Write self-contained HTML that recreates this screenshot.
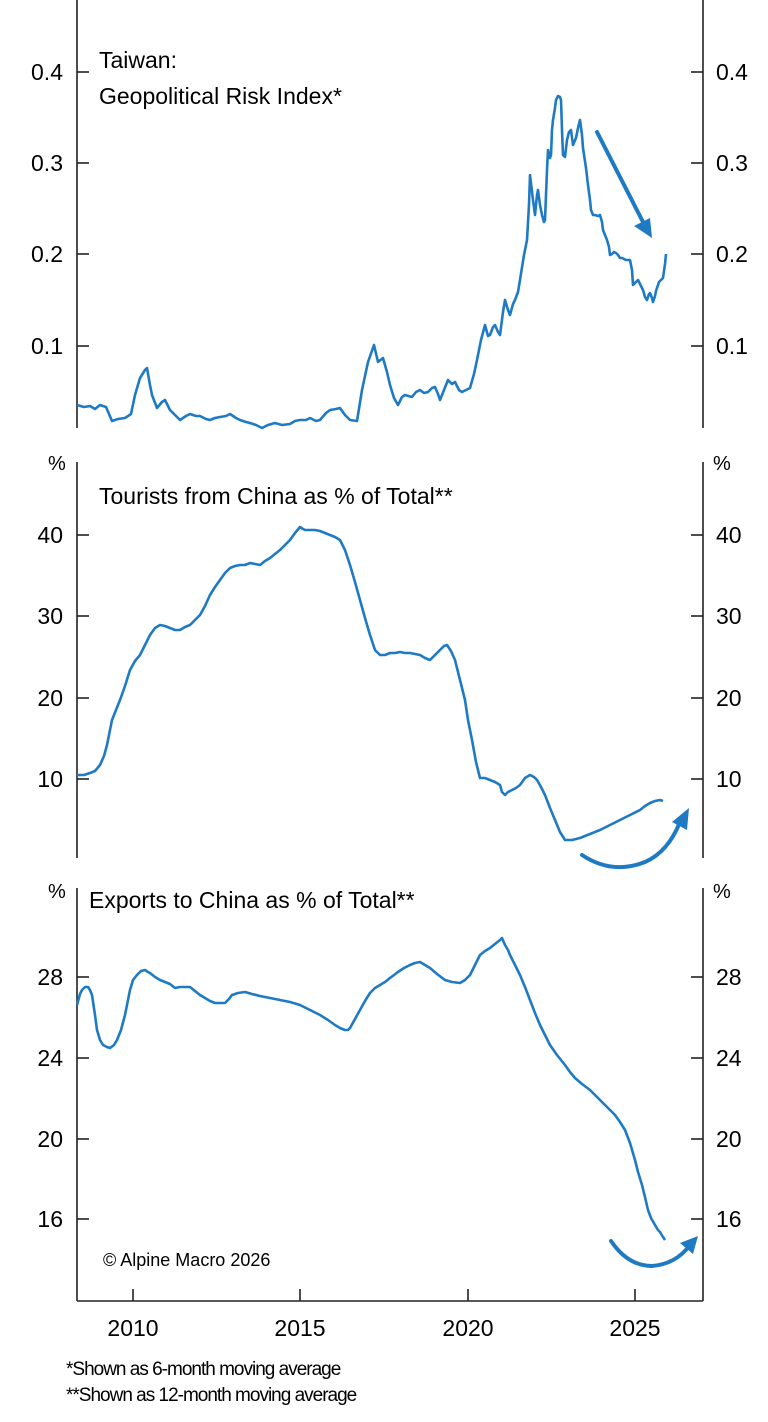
<!DOCTYPE html>
<html><head><meta charset="utf-8"><style>
html,body{margin:0;padding:0;background:#fff;}
svg{display:block;}
text{font-family:"Liberation Sans",Arial,sans-serif;fill:#000;}
</style></head><body>
<svg width="768" height="1422" viewBox="0 0 768 1422" xmlns="http://www.w3.org/2000/svg">
<g stroke="#222" stroke-width="1.6" fill="none">
<line x1="77" y1="0" x2="77" y2="428"/>
<line x1="703" y1="0" x2="703" y2="428"/>
<line x1="77" y1="72" x2="89" y2="72"/><line x1="77" y1="163" x2="89" y2="163"/><line x1="77" y1="254" x2="89" y2="254"/><line x1="77" y1="346" x2="89" y2="346"/>
<line x1="691" y1="72" x2="703" y2="72"/><line x1="691" y1="163" x2="703" y2="163"/><line x1="691" y1="254" x2="703" y2="254"/><line x1="691" y1="346" x2="703" y2="346"/>
<line x1="77" y1="462" x2="77" y2="858"/>
<line x1="703" y1="462" x2="703" y2="858"/>
<line x1="77" y1="535" x2="89" y2="535"/><line x1="77" y1="616" x2="89" y2="616"/><line x1="77" y1="698" x2="89" y2="698"/><line x1="77" y1="779" x2="89" y2="779"/>
<line x1="691" y1="535" x2="703" y2="535"/><line x1="691" y1="616" x2="703" y2="616"/><line x1="691" y1="698" x2="703" y2="698"/><line x1="691" y1="779" x2="703" y2="779"/>
<line x1="77" y1="888" x2="77" y2="1301"/>
<line x1="703" y1="888" x2="703" y2="1301"/>
<line x1="77" y1="1301" x2="703" y2="1301"/>
<line x1="77" y1="977" x2="89" y2="977"/><line x1="77" y1="1058" x2="89" y2="1058"/><line x1="77" y1="1139" x2="89" y2="1139"/><line x1="77" y1="1219" x2="89" y2="1219"/>
<line x1="691" y1="977" x2="703" y2="977"/><line x1="691" y1="1058" x2="703" y2="1058"/><line x1="691" y1="1139" x2="703" y2="1139"/><line x1="691" y1="1219" x2="703" y2="1219"/>
<line x1="133" y1="1289" x2="133" y2="1301"/><line x1="300" y1="1289" x2="300" y2="1301"/><line x1="468" y1="1289" x2="468" y2="1301"/><line x1="635" y1="1289" x2="635" y2="1301"/>
</g>
<g font-size="23">
<g text-anchor="end">
<text x="63" y="80">0.4</text><text x="63" y="171">0.3</text><text x="63" y="262">0.2</text><text x="63" y="354">0.1</text>
<text x="63" y="543">40</text><text x="63" y="624">30</text><text x="63" y="706">20</text><text x="63" y="787">10</text>
<text x="63" y="985">28</text><text x="63" y="1066">24</text><text x="63" y="1147">20</text><text x="63" y="1227">16</text>
</g>
<text x="716" y="80">0.4</text><text x="716" y="171">0.3</text><text x="716" y="262">0.2</text><text x="716" y="354">0.1</text>
<text x="716" y="543">40</text><text x="716" y="624">30</text><text x="716" y="706">20</text><text x="716" y="787">10</text>
<text x="716" y="985">28</text><text x="716" y="1066">24</text><text x="716" y="1147">20</text><text x="716" y="1227">16</text>
<g text-anchor="middle">
<text x="133" y="1336">2010</text><text x="300" y="1336">2015</text><text x="468" y="1336">2020</text><text x="635" y="1336">2025</text>
</g>
<text x="99" y="68">Taiwan:</text>
<text x="99" y="104">Geopolitical Risk Index*</text>
<text x="99" y="504">Tourists from China as % of Total**</text>
<text x="89" y="908">Exports to China as % of Total**</text>
</g>
<g font-size="20">
<text x="48" y="470">%</text><text x="713" y="470">%</text>
<text x="48" y="898">%</text><text x="713" y="898">%</text>
</g>
<text x="103" y="1266" font-size="18">© Alpine Macro 2026</text>
<text x="66" y="1375" font-size="19" letter-spacing="-1">*Shown as 6-month moving average</text>
<text x="66" y="1401" font-size="19" letter-spacing="-1">**Shown as 12-month moving average</text>

<g stroke="#1f7ac4" stroke-width="2.6" fill="none" stroke-linejoin="round">
<polyline points="77,405 84,407 90,406 95,409 100,405 106,407 112,421 118,419 125,418 131,414 135,395 140,378 145,370 147,368 150,385 152,395 157,408 162,402 165,400 170,410 176,416 180,420 186,416 190,414 196,416 200,416 206,419 210,420 215,418 220,417 226,416 230,414 236,418 240,420 246,422 250,423 256,425 262,428 268,425 275,423 282,425 290,424 295,421 300,420 306,420 310,418 316,421 320,420 326,413 330,410 336,409 340,408 345,415 350,420 357,421 362,390 368,362 374,345 378,362 383,358 387,372 390,385 394,398 398,405 402,397 405,395 412,397 416,392 420,390 424,393 428,392 432,388 435,387 438,394 440,400 444,390 448,380 452,384 455,382 459,390 462,392 466,390 470,388 474,374 477,360 481,340 485,325 488,336 490,335 493,327 495,325 498,332 500,335 503,312 505,300 508,310 510,315 513,304 515,300 518,292 520,280 524,255 527,240 529,205 530,175 533,200 535,215 537,195 538,190 540,205 542,215 544,222 545,220 547,170 548,150 550,158 551,155 552,130 553,120 555,108 556,100 558,96 560,97 561,100 562,130 563,155 565,157 567,140 569,132 571,130 573,145 576,138 578,128 580,120 582,135 583,148 586,168 588,185 590,200 591,210 593,215 595,215 598,216 600,215 602,222 603,230 605,235 607,240 609,247 610,255 612,254 614,252 616,253 618,255 620,258 622,258 626,260 630,260 632,270 633,285 636,282 638,280 641,286 643,290 645,297 647,300 649,294 650,293 652,298 653,302 655,296 656,291 658,285 659,282 661,280 663,278 665,264 666,254"/>
<polyline points="77,775 84,775 90,773 95,771 100,765 104,756 107,745 110,730 112,720 116,710 120,700 125,686 130,670 135,661 140,655 145,645 150,635 155,628 160,625 165,626 170,628 175,630 180,630 185,627 190,625 195,620 200,615 205,606 210,595 215,587 220,580 225,573 230,568 235,566 240,565 245,565 250,563 255,564 260,565 265,561 270,558 275,554 280,550 285,545 290,540 295,533 300,527 303,529 305,530 310,530 315,530 320,531 325,533 330,535 335,537 340,540 345,550 350,565 355,582 360,600 365,618 370,635 375,650 380,655 385,655 390,653 395,653 400,652 405,653 410,653 415,654 420,655 425,658 430,660 435,655 440,650 444,646 447,645 451,651 455,660 460,680 465,700 468,720 472,740 476,762 480,778 485,778 490,780 495,782 500,785 502,792 505,795 508,792 512,790 516,788 520,785 525,778 530,775 534,777 537,780 541,787 545,795 550,808 555,820 560,832 565,840 572,840 580,838 590,834 600,830 610,825 620,820 630,815 640,810 645,806 650,803 655,801 660,800 663,801"/>
<polyline points="77,1005 80,994 82,990 85,987 88,987 90,990 92,995 95,1015 97,1030 100,1040 103,1045 107,1047 110,1048 114,1045 117,1040 121,1030 125,1015 128,1000 130,990 133,980 137,975 141,971 145,970 148,972 150,973 155,977 160,980 165,982 170,984 175,988 180,987 185,987 190,987 195,991 200,995 205,998 210,1001 215,1003 220,1003 225,1003 229,999 232,995 238,993 245,992 252,994 260,996 270,998 280,1000 290,1002 300,1005 310,1010 320,1015 328,1020 335,1025 340,1028 345,1030 348,1030 350,1028 355,1019 360,1010 365,1001 370,993 375,988 380,985 385,982 390,978 398,972 404,968 410,965 415,963 420,962 425,965 430,968 437,974 445,980 452,982 460,983 465,980 470,975 475,965 480,955 485,951 490,948 495,944 500,940 502,938 505,945 508,950 510,955 515,965 520,975 525,987 530,1000 535,1013 540,1025 545,1035 550,1045 557,1055 565,1065 570,1072 575,1078 582,1084 590,1090 597,1097 605,1105 610,1110 615,1115 620,1122 625,1130 630,1143 635,1160 638,1172 642,1185 645,1197 648,1210 651,1218 655,1225 658,1230 660,1232 663,1237 665,1240"/>
</g>
<g stroke="#1f7ac4" stroke-width="4" fill="none" stroke-linecap="round">
<path d="M597,132 L643,222"/>
<path d="M582,855 Q612,875 645,862 Q668,852 680,822"/>
<path d="M611,1241 Q628,1266 652,1266 Q676,1264 690,1245"/>
</g>
<g fill="#1f7ac4">
<polygon points="652,238 634,226 650,218"/>
<polygon points="689,808 687,830 672,822"/>
<polygon points="698,1236 693,1254 680,1243"/>
</g>
</svg>
</body></html>
